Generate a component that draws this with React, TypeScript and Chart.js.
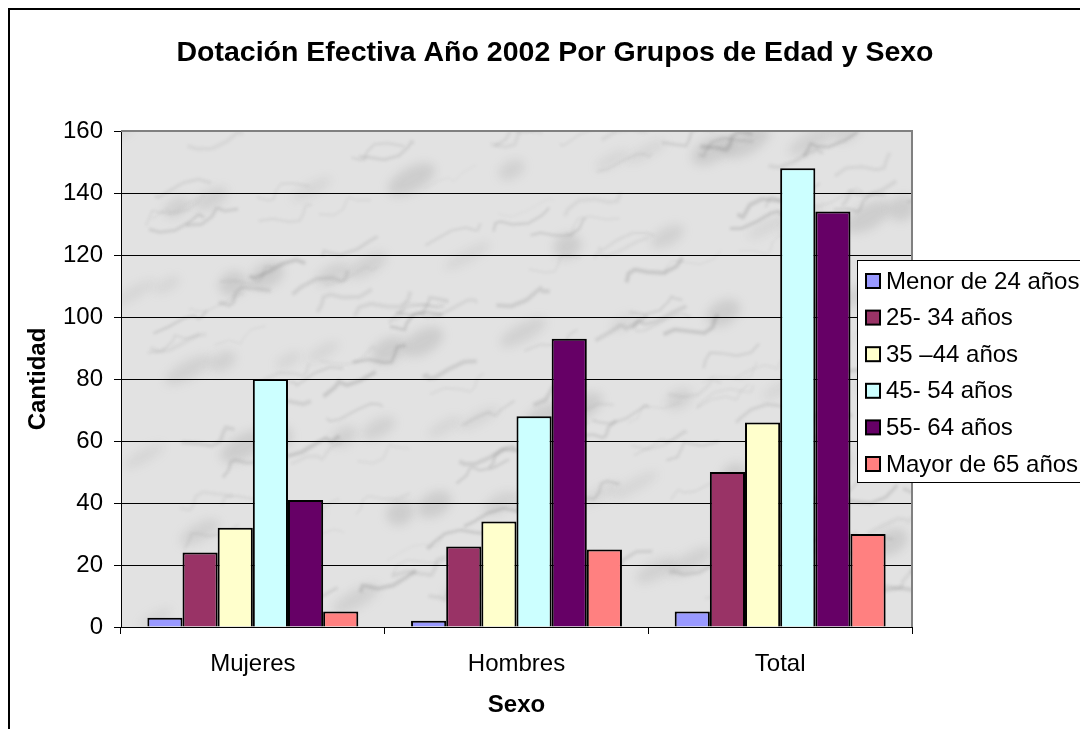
import React, { useEffect, useRef } from "react";
import { Chart, registerables } from "chart.js";

Chart.register(...registerables);

const categories = ["Mujeres", "Hombres", "Total"];
const seriesNames = ["Menor de 24 años", "25- 34 años", "35 –44 años", "45- 54 años", "55- 64 años", "Mayor de 65 años"];
const menor24 = [3, 2, 5];
const de25a34 = [24, 26, 50];
const de35a44 = [32, 34, 66];
const de45a54 = [80, 68, 148];
const de55a64 = [41, 93, 134];
const mayor65 = [5, 25, 30];
const seriesColors = ["#9999FF", "#993366", "#FFFFCC", "#CCFFFF", "#660066", "#FF8080"];
const titleText = "Dotación Efectiva Año 2002 Por Grupos de Edad y Sexo";
const yTitle = "Cantidad";
const xTitle = "Sexo";

const FONT = "'Liberation Sans', Arial, sans-serif";

const bgPlugin = {
  id: "marbleBg",
  beforeDraw(chart: any) {
    const { ctx, chartArea, width } = chart;
    const { left, top, right, bottom } = chartArea;
    ctx.save();
    ctx.fillStyle = "#000";
    ctx.font = `bold 28.5px ${FONT}`;
    ctx.textAlign = "center";
    ctx.textBaseline = "middle";
    ctx.fillText(titleText, width / 2 + 6, 43);
    ctx.restore();

    ctx.save();
    ctx.beginPath();
    ctx.rect(left, top, right - left, bottom - top);
    ctx.clip();
    ctx.fillStyle = "#e2e2e2";
    ctx.fillRect(left, top, right - left, bottom - top);
    const w = right - left;
    const h = bottom - top;
    ctx.filter = "blur(5px)";
    for (let i = 0; i < 70; i++) {
      const cx = left + ((i * 211.7) % w);
      const cy = top + ((i * 143.1) % h);
      ctx.fillStyle = `rgba(150,150,150,${0.15 + (i % 3) * 0.06})`;
      ctx.beginPath();
      ctx.ellipse(cx, cy, 14 + (i % 4) * 4, 6 + (i % 3) * 3, -0.5, 0, Math.PI * 2);
      ctx.fill();
    }
    ctx.filter = "blur(1.5px)";
    for (let i = 0; i < 160; i++) {
      const sx = left + ((i * 137.5) % w);
      const sy = top + ((i * 89.3 + i * i * 0.7) % h);
      ctx.strokeStyle = `rgba(100,100,100,${0.08 + (i % 5) * 0.03})`;
      ctx.lineWidth = 1 + (i % 4);
      ctx.beginPath();
      ctx.moveTo(sx, sy);
      let x = sx, y = sy;
      for (let k = 0; k < 6; k++) {
        x += 9 + 7 * Math.sin(i * 0.9 + k);
        y -= 3 + 6 * Math.cos(i * 1.7 + k * 1.3);
        ctx.lineTo(x, y);
      }
      ctx.stroke();
    }
    ctx.restore();
  },
  afterDatasetsDraw(chart: any) {
    const { ctx, chartArea } = chart;
    ctx.save();
    ctx.strokeStyle = "#808080";
    ctx.lineWidth = 2;
    ctx.beginPath();
    ctx.moveTo(chartArea.left, chartArea.top);
    ctx.lineTo(chartArea.right, chartArea.top);
    ctx.lineTo(chartArea.right, chartArea.bottom);
    ctx.stroke();
    ctx.restore();
  },
  afterDraw(chart: any) {
    const { ctx, chartArea } = chart;
    const lx = chartArea.right - 55;
    const ly = chartArea.top + 129;
    const lw = 227;
    const lh = 222;
    ctx.save();
    ctx.fillStyle = "#ffffff";
    ctx.fillRect(lx, ly, lw, lh);
    ctx.strokeStyle = "#000";
    ctx.lineWidth = 1;
    ctx.strokeRect(lx + 0.5, ly + 0.5, lw - 1, lh);
    ctx.font = `24px ${FONT}`;
    ctx.textBaseline = "middle";
    chart.data.datasets.forEach((ds: any, i: number) => {
      const cy = ly + 21 + i * 36.6;
      ctx.fillStyle = ds.backgroundColor;
      ctx.fillRect(lx + 9, cy - 7, 14, 14);
      ctx.strokeStyle = "#000";
      ctx.lineWidth = 2;
      ctx.strokeRect(lx + 9, cy - 7, 14, 14);
      ctx.fillStyle = "#000";
      ctx.fillText(ds.label, lx + 29, cy + 1);
    });
    ctx.restore();
  },
};

export default function App() {
  const ref = useRef<HTMLCanvasElement>(null);
  useEffect(() => {
    const all = [menor24, de25a34, de35a44, de45a54, de55a64, mayor65];
    const chart = new Chart(ref.current!, {
      type: "bar",
      data: {
        labels: categories,
        datasets: all.map((d, i) => ({
          label: seriesNames[i],
          data: d,
          backgroundColor: seriesColors[i],
          borderColor: "#000",
          borderWidth: 2,
          categoryPercentage: 0.8,
          barPercentage: 1.0,
        })),
      },
      options: {
        animation: false,
        responsive: false,
        devicePixelRatio: 1,
        layout: { padding: { left: 0, right: 176, top: 121, bottom: 0 } },
        plugins: {
          legend: { display: false },
          tooltip: { enabled: false },
          title: { display: false },
        },
        scales: {
          x: {
            grid: { drawOnChartArea: false, drawTicks: true, tickLength: 7, color: "#000", offset: true },
            border: { color: "#000", width: 1 },
            ticks: { color: "#000", font: { family: FONT, size: 24 }, padding: 16 },
            title: { display: true, text: xTitle, color: "#000", font: { family: FONT, size: 24, weight: "bold" }, padding: { top: 0, bottom: 9 } },
            afterFit(scale: any) { scale.height = 102; },
          },
          y: {
            min: 0,
            max: 160,
            ticks: { stepSize: 20, color: "#000", font: { family: FONT, size: 24 }, padding: 11 },
            grid: { color: "#000", lineWidth: 1, tickLength: 7, drawTicks: true },
            border: { color: "#000", width: 1 },
            title: { display: true, text: yTitle, color: "#000", font: { family: FONT, size: 24, weight: "bold" }, padding: { top: 14, bottom: 0 } },
            afterFit(scale: any) { scale.width = 111; },
          },
        },
      },
      plugins: [bgPlugin],
    });
    return () => chart.destroy();
  }, []);
  return (
    <div style={{ borderTop: "2px solid #000", borderLeft: "2px solid #000", width: 1078, height: 719 }}>
      <canvas ref={ref} width={1078} height={719} style={{ display: "block" }} />
    </div>
  );
}
